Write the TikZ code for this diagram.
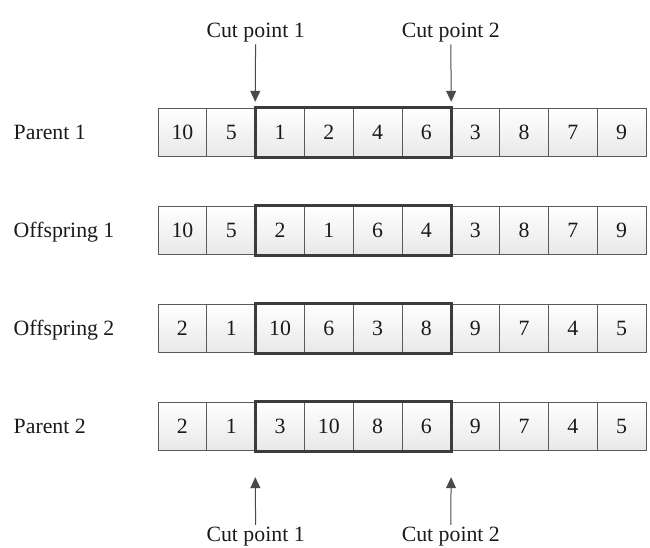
\documentclass[tikz,border=0pt]{standalone}
\usepackage{fontspec}
\setmainfont{Liberation Serif}
\usetikzlibrary{arrows.meta}
\definecolor{cellline}{HTML}{5A5A5A}
\definecolor{boldline}{HTML}{3C3C3C}
\definecolor{arrowcol}{HTML}{4A4A4A}
\definecolor{inkcol}{HTML}{1A1A1A}
\tikzset{
  txt/.style={font=\fontsize{21.8}{26}\selectfont, text=inkcol, inner sep=0pt},
  cell/.style={txt, draw=cellline, line width=0.9pt, top color=white,
    bottom color=black!9, minimum width=48.8pt, minimum height=48.5pt},
  segbox/.style={draw=boldline, line width=2.8pt},
  rowlabel/.style={txt, anchor=base west},
  cutlabel/.style={txt, anchor=base},
  cutarrow/.style={draw=arrowcol, line width=1pt,
    -{Triangle[length=11pt,width=10pt]}}
}
\begin{document}
\begin{tikzpicture}[x=1pt, y=-1pt]
  \useasboundingbox (0,0) rectangle (650,547);
  % chromosome rows: name / centre y / label / genes
  \foreach \r/\y/\lab/\vals in {
      pa/132.5/Parent 1/{10,5,1,2,4,6,3,8,7,9},
      oa/230.5/Offspring 1/{10,5,2,1,6,4,3,8,7,9},
      ob/328.5/Offspring 2/{2,1,10,6,3,8,9,7,4,5},
      pb/426.5/Parent 2/{2,1,3,10,8,6,9,7,4,5}} {
    \node[rowlabel] (lab-\r) at (13.5, \y+7.4) {\lab};
    \foreach \v [count=\i] in \vals {
      \node[cell] (\r-\i) at ({158+48.8*(\i-0.5)}, \y) {\v};
    }
    % segment between the two cut points
    \draw[segbox] (\r-3.north west) rectangle (\r-6.south east);
  }
  % cut points above the first parent
  \node[cutlabel] (cta) at (255.6, 37) {Cut point 1};
  \node[cutlabel] (ctb) at (450.8, 37) {Cut point 2};
  \draw[cutarrow, shorten <=2.5pt, shorten >=6pt] (cta.south) -- (pa-3.north west);
  \draw[cutarrow, shorten <=2.5pt, shorten >=6pt] (ctb.south) -- (pa-6.north east);
  % cut points below the second parent
  \node[cutlabel] (cba) at (255.6, 541) {Cut point 1};
  \node[cutlabel] (cbb) at (450.8, 541) {Cut point 2};
  \draw[cutarrow, shorten <=1.5pt, shorten >=26pt] (cba.north) -- (pb-3.south west);
  \draw[cutarrow, shorten <=1.5pt, shorten >=26pt] (cbb.north) -- (pb-6.south east);
\end{tikzpicture}
\end{document}
